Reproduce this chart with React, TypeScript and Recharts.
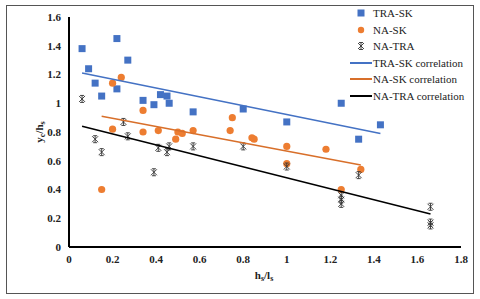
import React from 'react';
import { ScatterChart, Scatter, XAxis, YAxis } from 'recharts';

// measured points (h_s/l_s, y_c/h_s)
const traSkX = [0.06, 0.09, 0.12, 0.15, 0.22, 0.22, 0.27, 0.34, 0.39, 0.42, 0.45, 0.46, 0.57, 0.8, 1.0, 1.25, 1.33, 1.43];
const traSkY = [1.38, 1.24, 1.14, 1.05, 1.45, 1.1, 1.3, 1.02, 0.99, 1.06, 1.05, 1.0, 0.94, 0.96, 0.87, 1.0, 0.75, 0.85];

const naSkX = [0.15, 0.2, 0.2, 0.24, 0.34, 0.34, 0.41, 0.49, 0.5, 0.52, 0.57, 0.74, 0.75, 0.84, 0.85, 1.0, 1.0, 1.18, 1.25, 1.34];
const naSkY = [0.4, 1.14, 0.82, 1.18, 0.95, 0.8, 0.81, 0.75, 0.8, 0.79, 0.81, 0.81, 0.9, 0.76, 0.75, 0.7, 0.58, 0.68, 0.4, 0.54];

const naTraX = [0.06, 0.12, 0.15, 0.25, 0.27, 0.39, 0.41, 0.45, 0.46, 0.57, 0.8, 1.0, 1.25, 1.25, 1.25, 1.33, 1.66, 1.66, 1.66];
const naTraY = [1.03, 0.75, 0.66, 0.87, 0.77, 0.52, 0.69, 0.66, 0.7, 0.7, 0.7, 0.56, 0.36, 0.33, 0.3, 0.5, 0.28, 0.17, 0.15];

// correlation line end points
const traSkFitX = [0.06, 1.43];
const traSkFitY = [1.21, 0.79];
const naSkFitX = [0.15, 1.34];
const naSkFitY = [0.91, 0.57];
const naTraFitX = [0.06, 1.66];
const naTraFitY = [0.84, 0.23];

const xTicks = [0, 0.2, 0.4, 0.6, 0.8, 1, 1.2, 1.4, 1.6, 1.8];
const yTicks = [0, 0.2, 0.4, 0.6, 0.8, 1, 1.2, 1.4, 1.6];

const BLUE = '#4472C4';
const ORANGE = '#ED7D31';
const ORANGE_LINE = '#D86F2A';
const FONT = '"Liberation Serif", "Times New Roman", serif';

const toPoints = (xs: number[], ys: number[]) => xs.map((x, i) => ({ x, y: ys[i] }));

const Square = (p: any) => <rect x={p.cx - 3.5} y={p.cy - 3.5} width={7} height={7} fill={BLUE} />;
const Dot = (p: any) => <circle cx={p.cx} cy={p.cy} r={3.6} fill={ORANGE} />;
const Star = (p: any) => {
  const { cx, cy } = p;
  const d = `M${cx},${cy - 3.5}L${cx},${cy + 3.5}M${cx - 3},${cy - 3}L${cx + 3},${cy + 3}M${cx - 3},${cy + 3}L${cx + 3},${cy - 3}` +
    `M${cx - 2},${cy - 3.5}L${cx + 2},${cy - 3.5}M${cx - 2},${cy + 3.5}L${cx + 2},${cy + 3.5}`;
  return <path d={d} stroke="#333" strokeWidth={0.9} fill="none" />;
};
const NoDot = () => <g />;

const legendItems = [
  { name: 'TRA-SK', icon: 'square' },
  { name: 'NA-SK', icon: 'circle' },
  { name: 'NA-TRA', icon: 'star' },
  { name: 'TRA-SK correlation', icon: 'line', color: BLUE },
  { name: 'NA-SK correlation', icon: 'line', color: ORANGE_LINE },
  { name: 'NA-TRA correlation', icon: 'line', color: '#000' },
];

const LegendBox = () => (
  <div style={{ position: 'absolute', left: 350, top: 4.7, width: 128, fontFamily: FONT, fontSize: 11, color: '#222' }}>
    {legendItems.map(it => (
      <div key={it.name} style={{ display: 'flex', alignItems: 'center', height: 16.6 }}>
        <svg width={22} height={10} style={{ marginRight: 1, flexShrink: 0 }}>
          {it.icon === 'square' && <rect x={7.5} y={1.5} width={7} height={7} fill={BLUE} />}
          {it.icon === 'circle' && <circle cx={11} cy={5} r={3.2} fill={ORANGE} />}
          {it.icon === 'star' && <Star cx={11} cy={5} />}
          {it.icon === 'line' && <line x1={0} x2={22} y1={5} y2={5} stroke={it.color} strokeWidth={2} />}
        </svg>
        <span style={{ whiteSpace: 'nowrap' }}>{it.name}</span>
      </div>
    ))}
  </div>
);

const YLabel = () => (
  <text x={40} y={132} transform="rotate(-90 40 132)" textAnchor="middle" dominantBaseline="middle"
    fontFamily={FONT} fontSize={11} fontWeight="bold" fill="#222">
    y<tspan dy={3} fontSize={8}>c</tspan><tspan dy={-3}>/h</tspan><tspan dy={3} fontSize={8}>s</tspan>
  </text>
);

const XLabel = () => (
  <text x={264} y={276} textAnchor="middle" dominantBaseline="middle"
    fontFamily={FONT} fontSize={11} fontWeight="bold" fill="#222">
    h<tspan dy={3} fontSize={8}>s</tspan><tspan dy={-3}>/l</tspan><tspan dy={3} fontSize={8}>s</tspan>
  </text>
);

const tickStyle = { fontSize: 11, fontWeight: 'bold', fill: '#222', fontFamily: FONT };

export default function App() {
  return (
    <div style={{ position: 'absolute', left: 0, top: 0, width: 480, height: 299, background: '#fff' }}>
      <style>{'body{margin:0}'}</style>
      <div style={{ position: 'absolute', left: 6, top: 5, width: 466, height: 287, border: '1px solid #555', pointerEvents: 'none' }} />
      <ScatterChart width={480} height={299} margin={{ top: 17, right: 19, bottom: 0, left: 0 }}>
        <XAxis dataKey="x" type="number" domain={[0, 1.8]} ticks={xTicks} tick={tickStyle}
          tickLine={false} axisLine={{ stroke: '#000', strokeWidth: 2 }} height={52}
          label={{ content: () => <XLabel /> }} />
        <YAxis dataKey="y" type="number" domain={[0, 1.6]} ticks={yTicks} tick={tickStyle}
          tickLine={false} axisLine={{ stroke: '#000', strokeWidth: 2 }} width={69}
          label={{ content: () => <YLabel /> }} />
        <Scatter name="TRA-SK" data={toPoints(traSkX, traSkY)} shape={Square} isAnimationActive={false} />
        <Scatter name="NA-SK" data={toPoints(naSkX, naSkY)} shape={Dot} isAnimationActive={false} />
        <Scatter name="NA-TRA" data={toPoints(naTraX, naTraY)} shape={Star} isAnimationActive={false} />
        <Scatter name="TRA-SK correlation" data={toPoints(traSkFitX, traSkFitY)} shape={NoDot}
          line={{ stroke: BLUE, strokeWidth: 1.5 }} isAnimationActive={false} />
        <Scatter name="NA-SK correlation" data={toPoints(naSkFitX, naSkFitY)} shape={NoDot}
          line={{ stroke: ORANGE_LINE, strokeWidth: 1.5 }} isAnimationActive={false} />
        <Scatter name="NA-TRA correlation" data={toPoints(naTraFitX, naTraFitY)} shape={NoDot}
          line={{ stroke: '#000', strokeWidth: 1.5 }} isAnimationActive={false} />
      </ScatterChart>
      <LegendBox />
    </div>
  );
}
